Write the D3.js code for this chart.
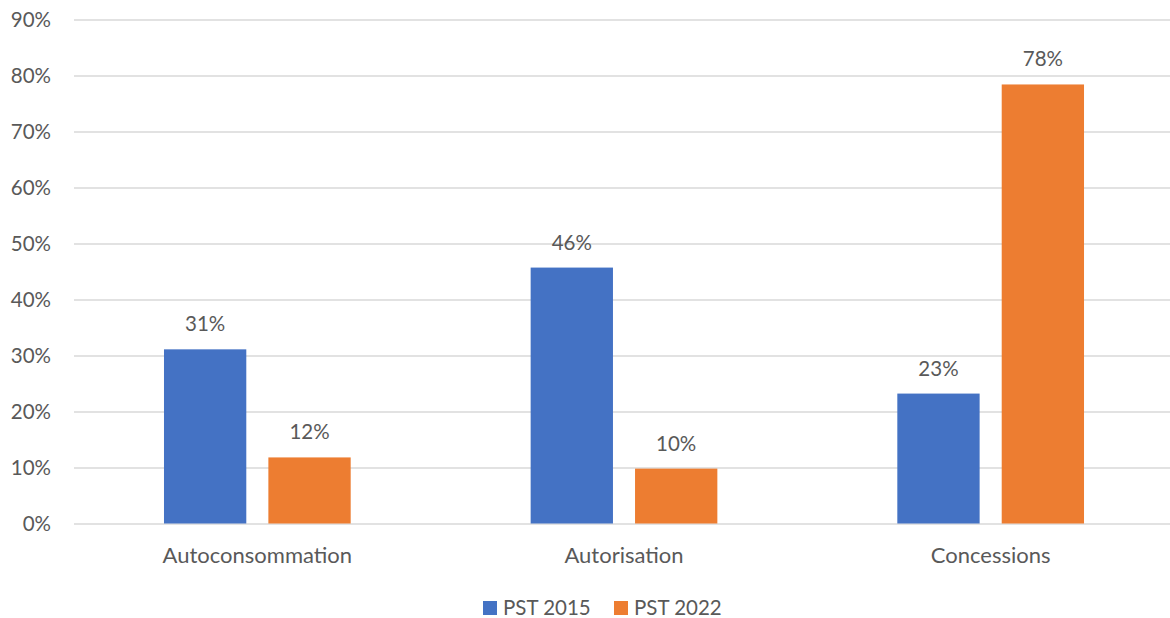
<!DOCTYPE html>
<html>
<head>
<meta charset="utf-8">
<script src="https://cdn.jsdelivr.net/npm/d3@7"></script>
<style>
  html, body { margin: 0; padding: 0; background: #fff; }
  svg text { font-family: Lato, "Open Sans", sans-serif; fill: #595959; }
</style>
</head>
<body>
<svg id="chart" width="1170" height="618"></svg>
<script>
// Share of each scheme, per survey year
const categories = ["Autoconsommation", "Autorisation", "Concessions"];
const seriesNames = ["PST 2015", "PST 2022"];
const pst2015 = [0.311, 0.457, 0.232];
const pst2022 = [0.118, 0.098, 0.784];
const yTicks = [0, 0.1, 0.2, 0.3, 0.4, 0.5, 0.6, 0.7, 0.8, 0.9];
const colors = ["#4472C4", "#ED7D31"];

const seriesValues = [pst2015, pst2022];
const rows = categories.map((c, i) => ({
  category: c,
  values: seriesNames.map((s, j) => ({ series: s, value: seriesValues[j][i] }))
}));

const svg = d3.select("#chart");
const W = 1170, H = 618;
const margin = { left: 74, top: 19.5, bottom: 94.5 };
const plotRight = 1174; // the category bands run slightly past the canvas edge

const x0 = d3.scaleBand().domain(categories)
  .range([margin.left, plotRight]).padding(0);
const x1 = d3.scaleBand().domain(seriesNames)
  .range([0, x0.bandwidth()]).paddingInner(0.2115).paddingOuter(0.862);
const y = d3.scaleLinear().domain([0, 0.9]).range([H - margin.bottom, margin.top]);

const fmt = d3.format(".0%");
const fontSize = 20.5;

// gridlines
const yAxis = d3.axisLeft(y).tickValues(yTicks).tickFormat(fmt)
  .tickSize(-(W - margin.left)).tickPadding(23);
const gy = svg.append("g").attr("transform", `translate(${margin.left},0)`).call(yAxis);
gy.select(".domain").remove();
gy.selectAll(".tick line").attr("stroke", "#D9D9D9").attr("stroke-width", 1.3);
gy.selectAll(".tick text").attr("font-size", fontSize).attr("fill", "#595959")
  .attr("dy", "0.35em");

// bars
const groups = svg.append("g").selectAll("g").data(rows).join("g")
  .attr("transform", d => `translate(${x0(d.category)},0)`);

groups.selectAll("rect").data(d => d.values).join("rect")
  .attr("x", d => x1(d.series))
  .attr("width", x1.bandwidth())
  .attr("y", d => y(d.value))
  .attr("height", d => y(0) - y(d.value))
  .attr("fill", (d, i) => colors[i]);

groups.selectAll("text.val").data(d => d.values).join("text")
  .attr("class", "val")
  .attr("x", d => x1(d.series) + x1.bandwidth() / 2)
  .attr("y", d => y(d.value) - 18)
  .attr("text-anchor", "middle")
  .attr("font-size", fontSize)
  .text(d => fmt(d.value));

// category labels
const xAxis = d3.axisBottom(x0).tickSize(0).tickPadding(24);
const gx = svg.append("g").attr("transform", `translate(0,${y(0)})`).call(xAxis);
gx.select(".domain").remove();
gx.selectAll(".tick text").attr("font-size", 22).attr("fill", "#595959");

// legend
const legend = svg.append("g").attr("transform", "translate(483,601)");
const legendX = [0, 131];
seriesNames.forEach((s, i) => {
  const g = legend.append("g").attr("transform", `translate(${legendX[i]},0)`);
  g.append("rect").attr("width", 14).attr("height", 14).attr("fill", colors[i]);
  g.append("text").attr("x", 20).attr("y", 14).attr("font-size", fontSize).text(s);
});
</script>
</body>
</html>
